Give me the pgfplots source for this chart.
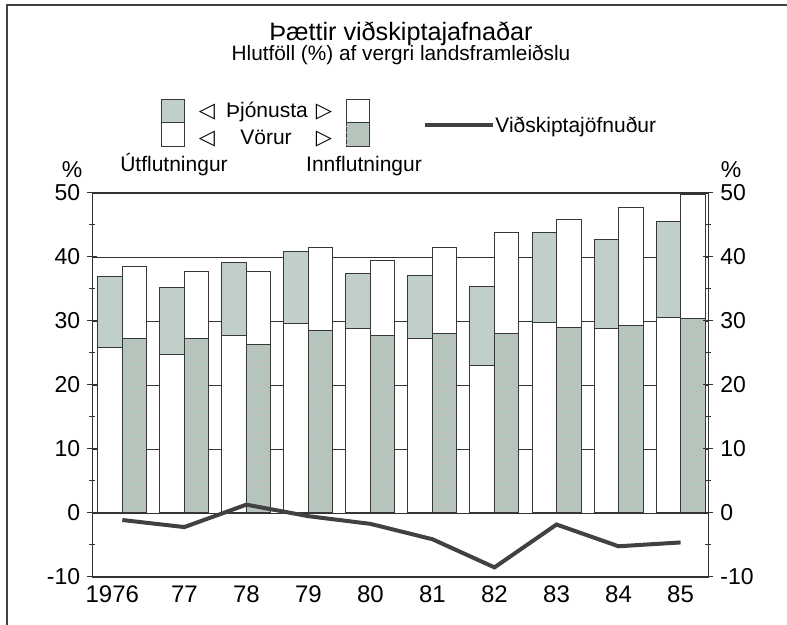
\documentclass[border=0pt]{standalone}
\usepackage{fontspec}
\setmainfont{Liberation Sans}
\newfontfamily\symfont{DejaVu Sans}
\usepackage{pgfplots}
\pgfplotsset{compat=1.18}
\usetikzlibrary{patterns}
\definecolor{barfill}{RGB}{192,207,199}
\definecolor{barfillB}{RGB}{180,197,188}
\definecolor{edge}{RGB}{55,55,55}
\definecolor{balcol}{RGB}{65,65,65}

\pgfplotstableread{
x expT expG impT impG bal
0 37.0 25.8 38.5 27.2 -1.1
1 35.3 24.8 37.7 27.2 -2.2
2 39.2 27.7 37.7 26.25 1.3
3 40.8 29.6 41.5 28.5 -0.5
4 37.4 28.75 39.5 27.8 -1.7
5 37.1 27.2 41.5 28.1 -4.1
6 35.4 23.1 43.8 28.0 -8.5
7 43.8 29.7 45.8 29.0 -1.8
8 42.8 28.9 47.7 29.3 -5.2
9 45.6 30.5 49.7 30.4 -4.6
}\datatable

\begin{document}
\begin{tikzpicture}[x=0.5pt,y=0.5pt]
\useasboundingbox (0,0) rectangle (787,625);
\draw[line width=0.9pt, black!75] (7,0) -- (7,620) -- (787,620);

\begin{axis}[
  at={(46.15pt,24pt)}, anchor=south west,
  scale only axis, width=308pt, height=192pt,
  ybar, bar width=0.395,
  enlarge x limits=false, enlarge y limits=false,
  xmin=-0.484, xmax=9.447, ymin=-10, ymax=50,
  xtick={0,...,9},
  xticklabels={{\hspace*{-10pt}1976},77,78,79,80,81,82,83,84,85},
  xtick style={draw=none},
  xticklabel style={font=\fontsize{12}{13}\selectfont, yshift=1.5pt},
  ytick={-10,0,10,20,30,40,50},
  yticklabels={-10,0,10,20,30,40,50},
  minor ytick={-5,5,15,25,35,45},
  ytick pos=left,
  ymajorgrids, grid style={black!80, line width=0.4pt},
  tick align=center, major tick length=5pt, minor tick length=3pt,
  tick style={black!80, line width=0.5pt},
  axis line style={black!80, line width=0.6pt},
  yticklabel style={font=\fontsize{11.5}{12}\selectfont},
]
\addplot[bar shift=-0.1975, fill=barfill, draw=edge, line width=0.5pt] table[x=x,y=expT]{\datatable};
\addplot[bar shift=-0.1975, fill=white, draw=edge, line width=0.5pt] table[x=x,y=expG]{\datatable};
\addplot[bar shift=0.1975, fill=white, draw=edge, line width=0.5pt] table[x=x,y=impT]{\datatable};
\addplot[bar shift=0.1975, fill=barfillB, draw=edge, line width=0.5pt,
  postaction={pattern=horizontal lines, pattern color=black!25}] table[x=x,y=impG]{\datatable};
\addplot[sharp plot, draw=balcol, line width=2pt, mark=none] table[x=x,y=bal]{\datatable};
\end{axis}

\begin{axis}[
  at={(46.15pt,24pt)}, anchor=south west,
  scale only axis, width=308pt, height=192pt,
  xmin=-0.484, xmax=9.447, ymin=-10, ymax=50,
  axis x line=none, axis y line*=right,
  ytick={-10,0,10,20,30,40,50},
  yticklabels={-10,0,10,20,30,40,50},
  minor ytick={-5,5,15,25,35,45},
  tick align=center, major tick length=5pt, minor tick length=3pt,
  tick style={black!80, line width=0.5pt},
  axis line style={black!80, line width=0.6pt},
  yticklabel style={font=\fontsize{11.5}{12}\selectfont},
]
\end{axis}

% titles
\node[anchor=base] at (401,584) {\fontsize{12.6}{14}\selectfont Þættir viðskiptajafnaðar};
\node[anchor=base] at (401,564) {\fontsize{10.4}{12}\selectfont Hlutföll (\%) af vergri landsframleiðslu};

% percent signs
\node at (72,455) {\fontsize{11.5}{12}\selectfont \%};
\node at (731,455) {\fontsize{11.5}{12}\selectfont \%};

% legend
\draw[edge, line width=0.5pt, fill=barfill] (161,525) rectangle (184,502);
\draw[edge, line width=0.5pt, fill=white] (161,502) rectangle (184,478);
\draw[edge, line width=0.5pt, fill=white] (346,525) rectangle (369,502);
\draw[edge, line width=0.5pt, fill=barfillB, postaction={pattern=horizontal lines, pattern color=black!25}] (346,502) rectangle (369,478);
\node[anchor=base] at (207,507) {\symfont\fontsize{10.5}{11}\selectfont ◁};
\node[anchor=base] at (324,507) {\symfont\fontsize{10.5}{11}\selectfont ▷};
\node[anchor=base] at (207,480) {\symfont\fontsize{10.5}{11}\selectfont ◁};
\node[anchor=base] at (324,480) {\symfont\fontsize{10.5}{11}\selectfont ▷};
\node[anchor=base] at (267,507) {\fontsize{10.5}{12}\selectfont Þjónusta};
\node[anchor=base] at (266,480) {\fontsize{10.5}{12}\selectfont Vörur};
\node[anchor=base] at (174,453) {\fontsize{10.5}{12}\selectfont Útflutningur};
\node[anchor=base] at (364,453) {\fontsize{10.5}{12}\selectfont Innflutningur};
\draw[balcol, line width=2pt] (425,500) -- (493,500);
\node[anchor=base west, inner sep=0pt] at (495,492) {\fontsize{10.5}{12}\selectfont Viðskiptajöfnuður};
\end{tikzpicture}
\end{document}
